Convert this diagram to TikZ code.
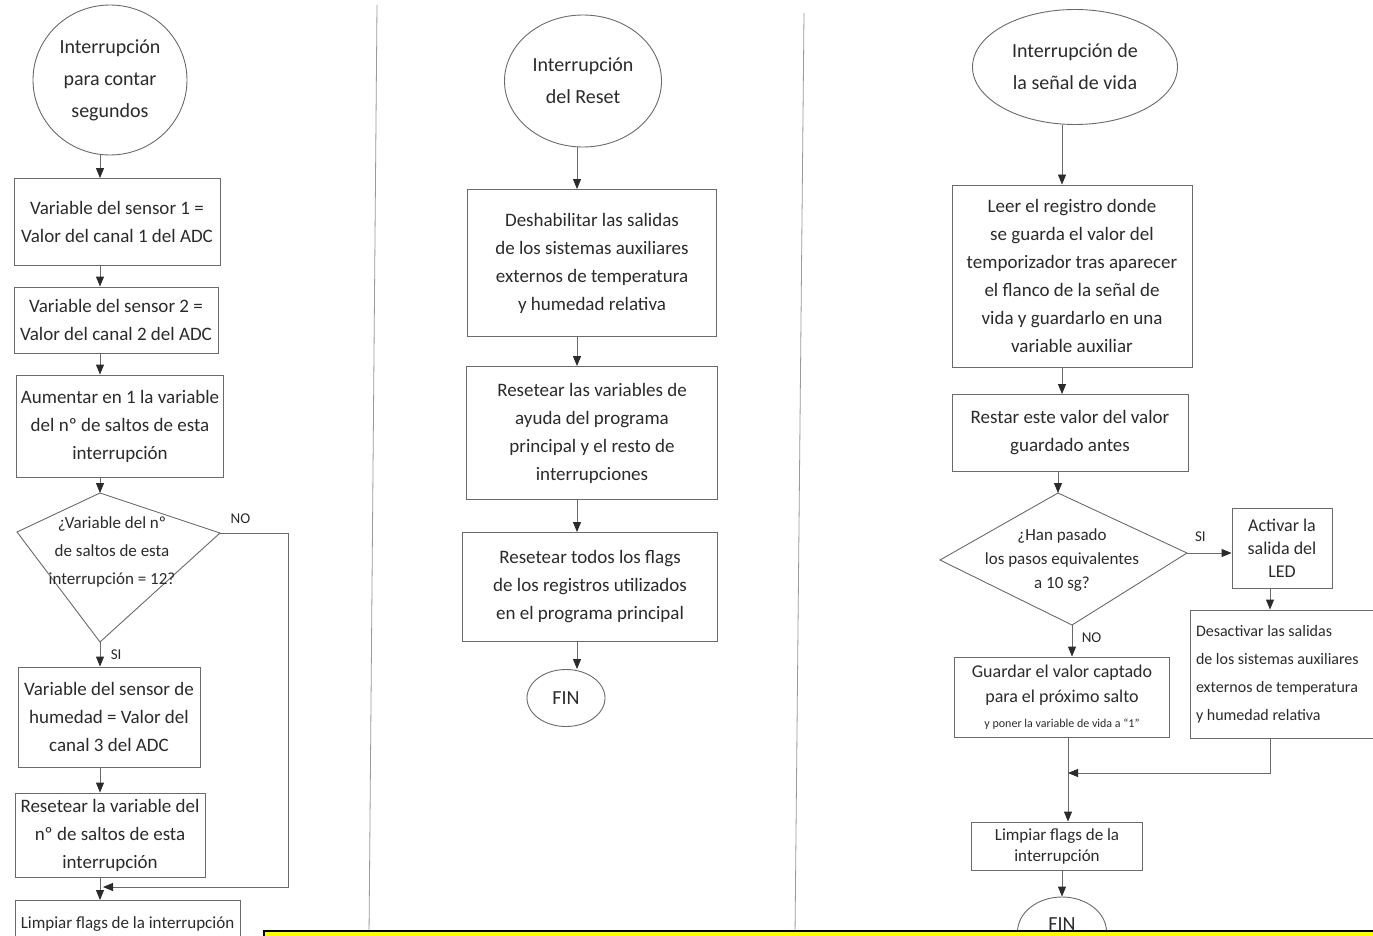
\documentclass[tikz,border=0pt]{standalone}
\usepackage{fontspec}
\setmainfont{Carlito}
\usetikzlibrary{arrows.meta,shapes.geometric}
\definecolor{ink}{HTML}{2B2B2B}
\definecolor{pencil}{HTML}{6A6A6A}
\definecolor{divider}{HTML}{9A9A9A}
\definecolor{hl}{HTML}{FFFF00}
\begin{document}
\begin{tikzpicture}[x=1pt,y=-1pt,
  every node/.style={font=\fontsize{19}{28}\selectfont, text=ink},
  box/.style={draw=pencil, line width=0.9pt, rectangle, align=center, inner sep=2pt},
  term/.style={draw=pencil, line width=0.9pt, ellipse, align=center, inner sep=0pt, font=\fontsize{20}{32}\selectfont},
  shp/.style={draw=pencil, line width=0.9pt},
  arr/.style={draw=pencil, line width=0.9pt, -{Triangle[length=10pt,width=8pt,color=ink]}},
  lbl/.style={font=\fontsize{15}{16}\selectfont},
  sep/.style={draw=divider, line width=0.8pt}]
\useasboundingbox (0,0) rectangle (1373,936);
\fill[white] (0,0) rectangle (1373,936);
\clip (0,0) rectangle (1373,936);

% dividers
\draw[sep] (377,5) -- (369,936);
\draw[sep] (804,13) -- (795,936);

% ===== left column =====
\node[term, minimum width=154pt, minimum height=150pt] (L0) at (110,80) {Interrupción\\para contar\\segundos};
\node[box, minimum width=206pt, minimum height=87pt] (L1) at (117,222) {Variable del sensor 1 =\\Valor del canal 1 del ADC};
\node[box, minimum width=204pt, minimum height=66pt] (L2) at (116,320) {Variable del sensor 2 =\\Valor del canal 2 del ADC};
\node[box, minimum width=207pt, minimum height=102pt] (L3) at (120,426) {Aumentar en 1 la variable\\del nº de saltos de esta\\interrupción};
\coordinate (LDt) at (100,493);
\coordinate (LDl) at (17,532);
\coordinate (LDr) at (220,533);
\coordinate (LDb) at (100,642);
\draw[shp] (LDt) -- (LDr) -- (LDb) -- (LDl) -- cycle;
\node[align=center, font=\fontsize{17}{28}\selectfont] (LDx) at (112,552) {¿Variable del nº\\de saltos de esta\\interrupción = 12?};
\node[box, minimum width=182pt, minimum height=100pt] (L4) at (109,717) {Variable del sensor de\\humedad = Valor del\\canal 3 del ADC};
\node[box, minimum width=190pt, minimum height=84pt] (L5) at (110,835) {Resetear la variable del\\nº de saltos de esta\\interrupción};
\node[box, anchor=north, minimum width=225pt, inner ysep=6pt, text height=22pt, text depth=26pt,
      font=\fontsize{17}{18}\selectfont] (L6) at (127.5,900) {Limpiar flags de la interrupción};
\coordinate (LJ) at (103,887);

\draw[arr] (LDt |- L0.south) -- (LDt |- L1.north);
\draw[arr] (LDt |- L1.south) -- (LDt |- L2.north);
\draw[arr] (LDt |- L2.south) -- (LDt |- L3.north);
\draw[arr] (LDt |- L3.south) -- (LDt);
\draw[arr] (LDb) -- (LDb |- L4.north) node[lbl, pos=0.5, right=7pt] {SI};
\draw[arr] (LDt |- L4.south) -- (LDt |- L5.north);
\draw[arr] (LDt |- L5.south) -- (LDt |- L6.north);
\draw[arr] (LDr) -- ++(68,0) node[lbl, pos=0.3, above=6pt] {NO} |- (LJ);

% ===== middle column =====
\coordinate (Mx) at (577,0);
\node[term, minimum width=157pt, minimum height=132pt] (M0) at (583,81) {Interrupción\\del Reset};
\node[box, minimum width=249pt, minimum height=147pt] (M1) at (592,263) {Deshabilitar las salidas\\de los sistemas auxiliares\\externos de temperatura\\y humedad relativa};
\node[box, minimum width=251pt, minimum height=133pt] (M2) at (592,433) {Resetear las variables de\\ayuda del programa\\principal y el resto de\\interrupciones};
\node[box, minimum width=255pt, minimum height=109pt] (M3) at (590,587) {Resetear todos los flags\\de los registros utilizados\\en el programa principal};
\node[term, minimum width=78pt, minimum height=57pt] (M4) at (566,698) {FIN};
\draw[arr] (Mx |- M0.south) -- (Mx |- M1.north);
\draw[arr] (Mx |- M1.south) -- (Mx |- M2.north);
\draw[arr] (Mx |- M2.south) -- (Mx |- M3.north);
\draw[arr] (Mx |- M3.south) -- (Mx |- M4.north);

% ===== right column =====
\coordinate (Rx) at (1062,0);
\coordinate (RK) at (1270,0);
\node[term, minimum width=205pt, minimum height=115pt] (R0) at (1075,67) {Interrupción de\\la señal de vida};
\node[box, minimum width=240pt, minimum height=182pt] (R1) at (1072,276) {Leer el registro donde\\se guarda el valor del\\temporizador tras aparecer\\el flanco de la señal de\\vida y guardarlo en una\\variable auxiliar};
\node[box, minimum width=236pt, minimum height=77pt] (R2) at (1070,433) {Restar este valor del valor\\guardado antes};
\coordinate (RDt) at (1058,493);
\coordinate (RDl) at (940,560);
\coordinate (RDr) at (1187,553);
\coordinate (RDb) at (1072,625);
\draw[shp] (RDt) -- (RDr) -- (RDb) -- (RDl) -- cycle;
\node[align=center, font=\fontsize{17}{24}\selectfont] (RDx) at (1062,560) {¿Han pasado\\los pasos equivalentes\\a 10 sg?};
\node[box, minimum width=100pt, minimum height=80pt, font=\fontsize{18}{23}\selectfont] (R3) at (1282,548) {Activar la\\salida del\\LED};
\node[box, minimum width=210pt, minimum height=128pt, text width=198pt, align=flush left,
      font=\fontsize{16}{28}\selectfont] (R4) at (1295,674) {Desactivar las salidas\\de los sistemas auxiliares\\externos de temperatura\\y humedad relativa};
\node[box, minimum width=215pt, minimum height=80pt, inner sep=1pt, font=\fontsize{18}{25}\selectfont] (R5) at (1062,697) {Guardar el valor captado\\para el próximo salto\\{\fontsize{12}{14}\selectfont y poner la variable de vida a “1”}};
\node[box, minimum width=171pt, minimum height=48pt, inner sep=1pt, font=\fontsize{17}{21}\selectfont] (R6) at (1057,846) {Limpiar flags de la\\interrupción};
\node[term, minimum width=89pt, minimum height=70pt, text depth=16pt] (R7) at (1062,932) {FIN};
\coordinate (RJ) at (1068,773);

\draw[arr] (Rx |- R0.south) -- (Rx |- R1.north);
\draw[arr] (Rx |- R1.south) -- (Rx |- R2.north);
\draw[arr] (RDt |- R2.south) -- (RDt);
\draw[arr] (RDr) -- (RDr -| R3.west) node[lbl, pos=0.3, above=8pt] {SI};
\draw[arr] (RK |- R3.south) -- (RK |- R4.north);
\draw[arr] (RDb) -- (RDb |- R5.north) node[lbl, pos=0.4, right=6pt] {NO};
\draw[arr] (RJ |- R5.south) -- (RJ |- R6.north);
\draw[arr] (RK |- R4.south) |- (RJ);
\draw[arr] (Rx |- R6.south) -- (R7.north);

% highlight bar at the bottom
\draw[black, line width=1.5pt, fill=hl] (264,931) rectangle (1380,945);
\end{tikzpicture}
\end{document}
